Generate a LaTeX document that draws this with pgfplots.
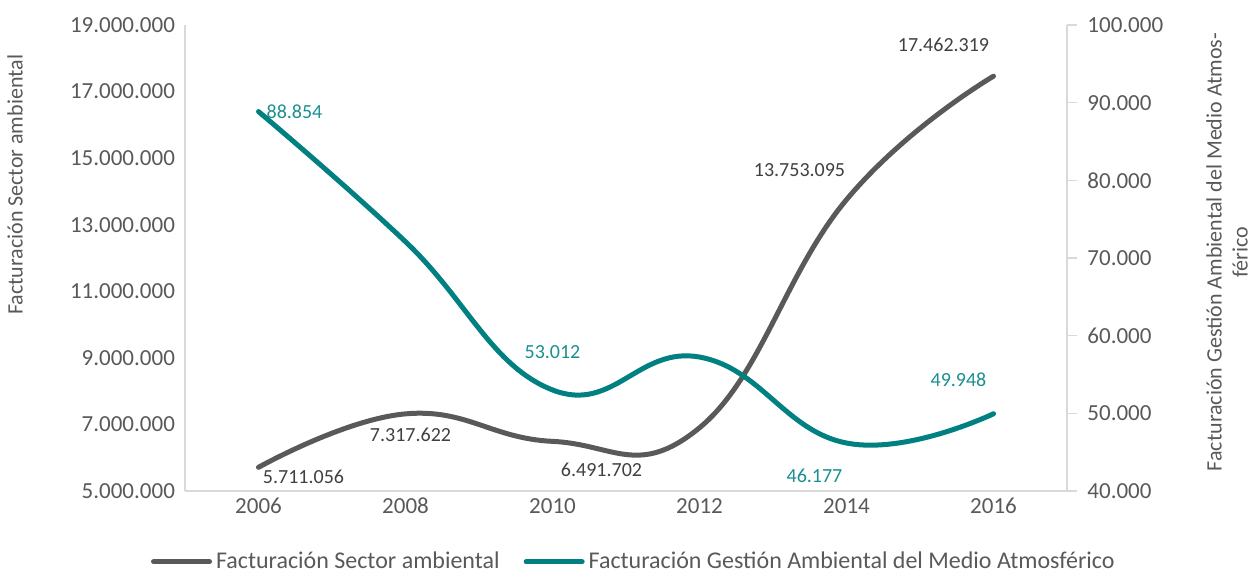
\documentclass[border=0pt]{standalone}
\usepackage{pgfplots}
\pgfplotsset{compat=1.18}
\usepackage{pgfplotstable}
\usepackage{fontspec}
\setmainfont{Carlito}

\definecolor{greyline}{HTML}{595959}
\definecolor{tealline}{HTML}{008080}
\definecolor{ticktext}{HTML}{595959}
\definecolor{axisgrey}{HTML}{D9D9D9}
\definecolor{greylab}{HTML}{404040}
\definecolor{teallab}{HTML}{1A8F8F}

% x, value, label, label offset (pt)
\pgfplotstableread{
x y lab dx dy
2006 5711056 5.711.056 22.5 -4.5
2008 7317622 7.317.622 2.5 -10.5
2010 6491702 6.491.702 24.5 -14
2012 6900000 {} 0 0
2014 13753095 13.753.095 -23.5 15
2016 17462319 17.462.319 -25 15.5
}\sector

\pgfplotstableread{
x y lab dx dy
2006 88854 88.854 18 0
2008 72100 {} 0 0
2010 53012 53.012 0 19
2012 57250 {} 0 0
2014 46177 46.177 -16 -16.5
2016 49948 49.948 -17.5 17
}\atmos

\pgfplotsset{
  base/.style={
    width=441pt, height=233pt, scale only axis,
    xmin=2005, xmax=2017,
    clip=false,
    tick label style={font=\fontsize{11.5}{13}\selectfont, text=ticktext},
    label style={font=\fontsize{11}{13}\selectfont, text=ticktext},
    /pgf/number format/assume math mode=true,
    scaled y ticks=false,
    yticklabel style={/pgf/number format/fixed, /pgf/number format/1000 sep={.}},
    axis line style={axisgrey, line width=0.8pt, -},
  },
  lbl/.style={
    nodes near coords, point meta=explicit symbolic,
    visualization depends on={\thisrow{dx} \as \dx},
    visualization depends on={\thisrow{dy} \as \dy},
    nodes near coords style={anchor=center, xshift=\dx, yshift=\dy,
      font=\fontsize{10}{12}\selectfont},
  },
}

\begin{document}
\begin{tikzpicture}
\begin{axis}[base,
  axis x line*=bottom, axis y line*=left,
  ymin=5000000, ymax=19000000,
  ytick={5000000,7000000,9000000,11000000,13000000,15000000,17000000,19000000},
  xtick={2006,2008,2010,2012,2014,2016},
  xticklabel style={/pgf/number format/1000 sep={}},
  major tick length=0pt,
  yticklabel style={xshift=-1.5pt},
  ylabel={Facturación Sector ambiental},
  ylabel style={at={([xshift=-85pt]rel axis cs:0,0.657)}, anchor=center},
  legend style={at={(0.51,-0.152)}, anchor=center, draw=none, fill=none,
    legend columns=2, font=\fontsize{12}{14}\selectfont, text=ticktext,
    /tikz/every even column/.append style={column sep=10pt}},
  legend image code/.code={\draw[line width=2.5pt, line cap=round] (0pt,0pt) -- (28pt,0pt);},
]
\addplot[smooth, tension=0.75, greyline, line width=2.5pt, line cap=round, lbl,
  every node near coord/.append style={text=greylab}]
  table[x=x, y=y, meta=lab] {\sector};
\addlegendentry{Facturación Sector ambiental}
\addlegendimage{tealline, line width=2.5pt}
\addlegendentry{Facturación Gestión Ambiental del Medio Atmosférico}
\end{axis}

\begin{axis}[base,
  axis x line=none, axis y line*=right,
  ymin=40000, ymax=100000,
  ytick={40000,50000,60000,70000,80000,90000,100000},
  tick align=outside, major tick length=5pt,
  ytick style={axisgrey, line width=0.8pt},
  yticklabel style={xshift=1.7pt},
  ylabel={Facturación Gestión Ambiental del Medio Atmos-\\férico},
  ylabel style={at={([xshift=80pt]rel axis cs:1,0.513)}, anchor=center, align=center},
]
\addplot[smooth, tension=0.75, tealline, line width=2.5pt, line cap=round, lbl,
  every node near coord/.append style={text=teallab}]
  table[x=x, y=y, meta=lab] {\atmos};
\end{axis}

\pgfresetboundingbox
\path (-92.5pt,-42pt) rectangle (533.5pt,245.5pt);
\end{tikzpicture}
\end{document}
